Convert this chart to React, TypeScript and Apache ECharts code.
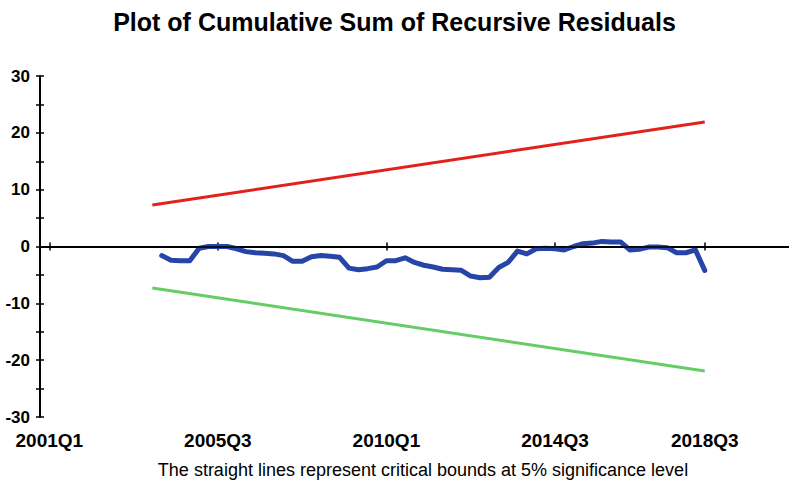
import React, { useEffect, useRef } from "react";
import * as echarts from "echarts";

// Quarterly axis from 2000Q4 to 2020Q4
const firstYear = 2000;
const firstQuarter = 4;
const quarterCount = 81;
const quarters: string[] = [];
for (let i = 0; i < quarterCount; i++) {
  const q = firstQuarter - 1 + i;
  quarters.push(`${firstYear + Math.floor(q / 4)}Q${(q % 4) + 1}`);
}

const xTickLabels = ["2001Q1", "2005Q3", "2010Q1", "2014Q3", "2018Q3"];

// CUSUM of recursive residuals, 2004Q1 .. 2018Q3
const cusumStart = "2004Q1";
const cusumValues = [
  -1.6, -2.4, -2.5, -2.5, -0.3, 0.0, 0.0, 0.0, -0.4, -0.9,
  -1.1, -1.2, -1.3, -1.6, -2.6, -2.6, -1.8, -1.6, -1.7, -1.9,
  -3.8, -4.1, -3.9, -3.6, -2.5, -2.5, -2.0, -2.8, -3.3, -3.6,
  -4.0, -4.1, -4.2, -5.2, -5.5, -5.4, -3.7, -2.8, -0.8, -1.3,
  -0.4, -0.3, -0.4, -0.6, 0.0, 0.5, 0.6, 0.9, 0.8, 0.8,
  -0.6, -0.5, -0.1, -0.1, -0.2, -1.1, -1.1, -0.6, -4.2,
];

// 5% critical bounds (straight lines between end points)
const boundDates = ["2003Q4", "2018Q3"];
const upperBound = [7.3, 21.9];
const lowerBound = [-7.3, -21.9];

const titleText = "Plot of Cumulative Sum of Recursive Residuals";
const noteText = "The straight lines represent critical bounds at 5% significance level";

const FONT = "'Liberation Sans', Arial, sans-serif";

export default function App() {
  const ref = useRef<HTMLDivElement>(null);

  useEffect(() => {
    if (!ref.current) return;
    document.body.style.margin = "0";
    const chart = echarts.init(ref.current, undefined, { renderer: "svg" });

    const startIdx = quarters.indexOf(cusumStart);
    const cusumData = cusumValues.map((v, i) => [quarters[startIdx + i], v]);
    const upperData = boundDates.map((d, i) => [d, upperBound[i]]);
    const lowerData = boundDates.map((d, i) => [d, lowerBound[i]]);

    const showTick = (_i: number, v: string) => xTickLabels.includes(v);

    const tickStyle = { color: "#000", width: 1.5 };

    chart.setOption({
      animation: false,
      backgroundColor: "#fff",
      title: [
        {
          text: titleText,
          left: "center",
          top: 4,
          textStyle: {
            fontFamily: FONT,
            fontWeight: "bold",
            fontSize: 25,
            color: "#000",
          },
        },
        {
          text: noteText,
          left: 418,
          textAlign: "center",
          top: 456,
          textStyle: {
            fontFamily: FONT,
            fontWeight: "normal",
            fontSize: 18,
            color: "#000",
          },
        },
      ],
      grid: { left: 40, right: 0, top: 76, bottom: 66, containLabel: false },
      xAxis: [
        {
          type: "category",
          data: quarters,
          boundaryGap: false,
          axisLine: { lineStyle: { color: "#000", width: 2 } },
          axisTick: { interval: showTick, length: 4, lineStyle: tickStyle },
          axisLabel: {
            interval: showTick,
            margin: 14,
            color: "#000",
            fontFamily: FONT,
            fontWeight: "bold",
            fontSize: 19,
          },
          splitLine: { show: false },
        },
        {
          type: "category",
          data: quarters,
          boundaryGap: false,
          position: "bottom",
          axisLine: { show: false },
          axisTick: { inside: true, interval: showTick, length: 4, lineStyle: tickStyle },
          axisLabel: { show: false },
          splitLine: { show: false },
        },
      ],
      yAxis: [
        {
          type: "value",
          min: -30,
          max: 30,
          interval: 5,
          axisLine: { show: true, lineStyle: { color: "#000", width: 2 } },
          axisTick: { show: true, length: 4, lineStyle: tickStyle },
          axisLabel: {
            formatter: (v: number) => (v % 10 === 0 ? String(v) : ""),
            margin: 10,
            color: "#000",
            fontFamily: FONT,
            fontWeight: "bold",
            fontSize: 17,
          },
          splitLine: { show: false },
        },
        {
          type: "value",
          min: -30,
          max: 30,
          interval: 5,
          position: "left",
          axisLine: { show: false },
          axisTick: { show: true, inside: true, length: 4, lineStyle: tickStyle },
          axisLabel: { show: false },
          splitLine: { show: false },
        },
      ],
      series: [
        {
          name: "Upper bound",
          type: "line",
          data: upperData,
          showSymbol: false,
          lineStyle: { color: "#e3211c", width: 3 },
        },
        {
          name: "Lower bound",
          type: "line",
          data: lowerData,
          showSymbol: false,
          lineStyle: { color: "#66cc66", width: 3 },
        },
        {
          name: "CUSUM",
          type: "line",
          data: cusumData,
          showSymbol: false,
          lineStyle: { color: "#2645a6", width: 5, join: "round", cap: "round" },
          markLine: {
            silent: true,
            symbol: "none",
            label: { show: false },
            lineStyle: { color: "#000", width: 1.5, type: "solid" },
            data: [{ yAxis: 0 }],
          },
          z: 3,
        },
      ],
    });

    return () => chart.dispose();
  }, []);

  return <div ref={ref} style={{ width: 789, height: 483 }} />;
}
